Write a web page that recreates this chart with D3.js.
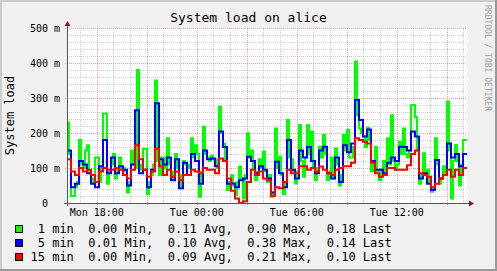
<!DOCTYPE html>
<html>
<head>
<meta charset="utf-8">
<script src="https://cdn.jsdelivr.net/npm/d3@7"></script>
<style>
  body { margin: 0; background: #f0f0f0; }
  text { font-family: "DejaVu Sans Mono", monospace; white-space: pre; }
</style>
</head>
<body>
<div id="root"></div>
<script>
const w = 497;
const h = 271;
const plot = { left: 67, right: 467, top: 28, bottom: 203 };

// time window (24h) and data steps (minutes)
const startTime = Date.UTC(2024, 0, 1, 16, 13);
const step1 = 7.2;
const step5 = 14.4;
const step15 = 14.4;

// load values in milli units, one per step
const load1 = [230,140, 20,20, 45,60, 180,110, 100,150, 165,90, 70,60, 130,130, 60,100, 256,256,
  55,90, 110,140, 70,100, 130,100, 100,90, 30,60, 150,110, 100,380, 95,110, 155,155,
  25,60, 80,110, 350,120, 80,130, 130,100, 185,110, 70,90, 140,100, 45,80, 120,110,
  110,100, 185,130, 165,140, 18,90, 218,140, 130,120, 135,125, 125,100, 275,200, 170,120,
  37,60, 80,50, 23,60, 104,70, 13,80, 199,130, 150,100, 65,90, 125,100, 147,90,
  60,80, 18,30, 213,100, 132,80, 25,60, 237,130, 125,90, 56,90, 223,120, 75,130,
  223,140, 204,100, 65,100, 161,130, 194,140, 65,90, 130,70, 156,110, 50,80, 194,150,
  209,130, 130,160, 404,250, 213,200, 190,160, 215,180, 90,120, 161,90, 65,95, 120,90,
  185,110, 251,120, 95,110, 175,140, 213,140, 130,150, 280,280, 246,150, 55,80, 142,90,
  95,60, 32,40, 185,110, 55,70, 105,80, 290,150, 13,120, 166,120, 50,110, 180,180];
const load5 = [150,45,55,120,110,85,55,45,105,180, 85,130,85,105,95,50,110,265,85,95,
  45,95,285,125,110, 130,65,125,42,115, 80,140,120,55,150, 125,127,105,204,160,
  55,56,45,65,70, 132,120,85,105,95, 70,30,118,85,45, 180,95,70,150,130,
  160,120,85,150,161, 85,70,130,60,165, 145,170,294,237,190, 210,120,95,95,85,
  115,130,120,161,160, 150,204,190,70,85, 55,37,123,70,80, 170,130,140,105,140];
const load15 = [125,90,80,100,90,95,80,60,90,100, 95,95,100,95,80,70,95,165,125,95,
  75,90,155,105,80, 95,75,90,65,80, 80,95,90,85,100, 95,95,85,127,120,
  70,35,13,0,5, 60,95,80,90,70, 65,20,45,42,60, 95,85,85,105,105,
  95,100,90,104,95, 85,80,95,100,105, 105,115,185,180,175, 170,115,85,75,80,
  100,100,95,95,95, 108,140,150,85,80, 75,45,55,70,80, 95,75,95,80,100];

// legend
const seriesNames = ["1 min", "5 min", "15 min"];
const seriesColors = ["#00ff00", "#0000ff", "#ff0000"];
const statMin = [0.00, 0.01, 0.00];
const statAvg = [0.11, 0.10, 0.09];
const statMax = [0.90, 0.38, 0.21];
const statLast = [0.18, 0.14, 0.10];

const yTicks = [0, 100, 200, 300, 400, 500];

const svg = d3.select("#root")
    .append("svg")
    .attr("width", w)
    .attr("height", h);

// background + 3d-ish border
svg.append("rect").attr("width", w).attr("height", h).attr("fill", "#f0f0f0");
svg.append("path").attr("d", `M0,0H${w}V2H2V${h}H0Z`).attr("fill", "#cbcbcb");
svg.append("path").attr("d", `M${w},${h}H0V${h-2}H${w-2}V0H${w}Z`).attr("fill", "#999999");

const xScale = d3.scaleUtc()
    .domain([startTime, startTime + 24 * 3600 * 1000])
    .range([plot.left, plot.right]);
const yScale = d3.scaleLinear()
    .domain([0, 500])
    .range([plot.bottom, plot.top]);

// canvas
svg.append("rect")
    .attr("x", plot.left).attr("y", plot.top)
    .attr("width", plot.right - plot.left).attr("height", plot.bottom - plot.top)
    .attr("fill", "#ffffff");

// grid
const grid = svg.append("g").attr("shape-rendering", "crispEdges");
const [t0, t1] = xScale.domain();
const minorX = d3.utcHour.every(1).range(t0, t1).filter(d => d.getUTCHours() % 3 != 0);
const majorX = d3.utcHour.every(3).range(t0, t1);
const minorY = d3.range(20, 501, 20).filter(d => d % 100 != 0);

grid.selectAll(".vmin").data(minorX).enter().append("line")
    .attr("x1", d => Math.round(xScale(d)) + 0.5).attr("x2", d => Math.round(xScale(d)) + 0.5)
    .attr("y1", plot.top).attr("y2", plot.bottom)
    .attr("stroke", "rgba(143,143,143,0.45)").attr("stroke-dasharray", "1,1");
grid.selectAll(".hmin").data(minorY).enter().append("line")
    .attr("x1", plot.left).attr("x2", plot.right)
    .attr("y1", d => Math.round(yScale(d)) + 0.5).attr("y2", d => Math.round(yScale(d)) + 0.5)
    .attr("stroke", "rgba(143,143,143,0.45)").attr("stroke-dasharray", "1,1");
grid.selectAll(".vmaj").data(majorX).enter().append("line")
    .attr("x1", d => Math.round(xScale(d)) + 0.5).attr("x2", d => Math.round(xScale(d)) + 0.5)
    .attr("y1", plot.top).attr("y2", plot.bottom + 3)
    .attr("stroke", "rgba(222,80,80,0.55)").attr("stroke-dasharray", "1,1");
grid.selectAll(".hmaj").data(yTicks.slice(1)).enter().append("line")
    .attr("x1", plot.left - 2).attr("x2", plot.right)
    .attr("y1", d => Math.round(yScale(d)) + 0.5).attr("y2", d => Math.round(yScale(d)) + 0.5)
    .attr("stroke", "rgba(222,80,80,0.55)").attr("stroke-dasharray", "1,1");

// data lines
svg.append("clipPath").attr("id", "clip")
    .append("rect")
    .attr("x", plot.left).attr("y", plot.top - 1)
    .attr("width", plot.right - plot.left).attr("height", plot.bottom - plot.top + 1);

const line = d3.line()
    .x(d => xScale(d.t))
    .y(d => yScale(d.v))
    .curve(d3.curveStepAfter);

[[load1, step1], [load5, step5], [load15, step15]].forEach(([vals, stepMin], k) => {
    const pts = vals.map((v, i) => ({ t: startTime + i * stepMin * 60000, v: v }));
    pts.push({ t: startTime + vals.length * stepMin * 60000, v: vals[vals.length - 1] });
    svg.append("path")
        .attr("clip-path", "url(#clip)")
        .attr("d", line(pts))
        .attr("fill", "none")
        .attr("stroke", seriesColors[k])
        .attr("stroke-width", 2);
});

// axes
svg.append("line")
    .attr("x1", plot.left - 3).attr("x2", plot.right + 3)
    .attr("y1", plot.bottom + 0.5).attr("y2", plot.bottom + 0.5)
    .attr("stroke", "#555").attr("shape-rendering", "crispEdges");
svg.append("line")
    .attr("x1", plot.left + 0.5).attr("x2", plot.left + 0.5)
    .attr("y1", plot.bottom + 3).attr("y2", plot.top - 2)
    .attr("stroke", "#555").attr("shape-rendering", "crispEdges");
svg.append("path")
    .attr("d", `M${plot.right + 7},${plot.bottom + 0.5}L${plot.right + 2},${plot.bottom - 2.5}L${plot.right + 2},${plot.bottom + 3.5}Z`)
    .attr("fill", "#7f1f1f");
svg.append("path")
    .attr("d", `M${plot.left + 0.5},${plot.top - 7}L${plot.left - 2.5},${plot.top - 2}L${plot.left + 3.5},${plot.top - 2}Z`)
    .attr("fill", "#7f1f1f");

// y tick labels
svg.append("g").selectAll("text")
    .data(yTicks).enter().append("text")
    .attr("x", plot.left - 7)
    .attr("y", d => yScale(d) + 4)
    .attr("text-anchor", "end")
    .attr("font-size", 10)
    .text(d => d == 0 ? "0  " : d + " m");

// x tick labels
const labelX = d3.utcHour.every(6).range(t0, t1);
const fmt = d3.utcFormat("%a %H:%M");
svg.append("g").selectAll("text")
    .data(labelX).enter().append("text")
    .attr("x", d => xScale(d))
    .attr("y", 216)
    .attr("text-anchor", "middle")
    .attr("font-size", 10)
    .text(d => fmt(d));

// titles
svg.append("text")
    .attr("x", w / 2).attr("y", 22)
    .attr("text-anchor", "middle")
    .attr("font-size", 13)
    .text("System load on alice");
svg.append("text")
    .attr("transform", `translate(14,${(plot.top + plot.bottom) / 2}) rotate(-90)`)
    .attr("text-anchor", "middle")
    .attr("font-size", 12)
    .text("System load");
svg.append("text")
    .attr("transform", "translate(485,5) rotate(90)")
    .attr("font-size", 8)
    .attr("fill", "#a0a0a0")
    .text("RRDTOOL / TOBI OETIKER");

// legend
const f2 = d3.format(".2f");
const legend = svg.append("g").attr("id", "legend");
seriesNames.forEach((name, k) => {
    const y = 233 + k * 14;
    legend.append("rect")
        .attr("x", 15.5).attr("y", y - 7.5)
        .attr("width", 7).attr("height", 7)
        .attr("fill", seriesColors[k]).attr("stroke", "#000");
    const label = (name.length < 6 ? " " : "") + name + "  " +
        f2(statMin[k]) + " Min,  " + f2(statAvg[k]) + " Avg,  " +
        f2(statMax[k]) + " Max,  " + f2(statLast[k]) + " Last";
    legend.append("text")
        .attr("x", 30.5).attr("y", y)
        .attr("font-size", 12)
        .text(label);
});
</script>
</body>
</html>
